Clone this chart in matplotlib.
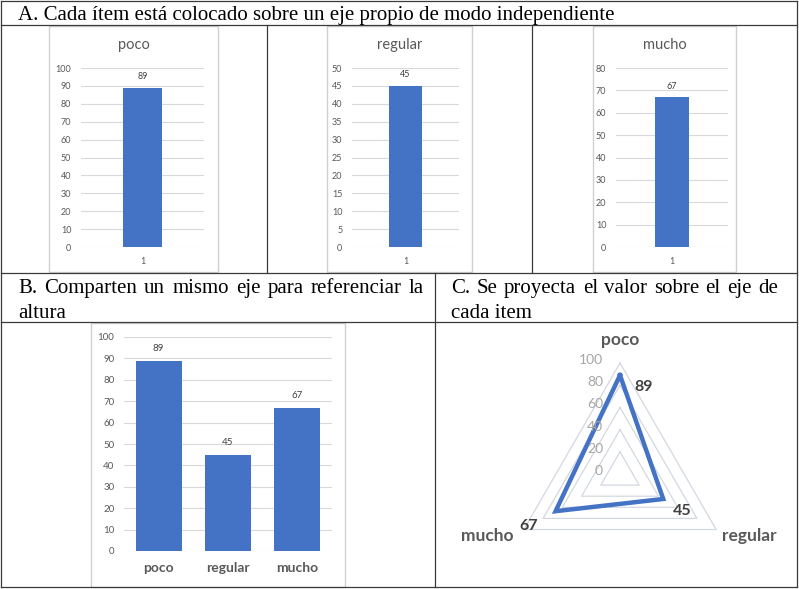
import matplotlib
matplotlib.use("Agg")
import matplotlib.pyplot as plt
import numpy as np
from matplotlib.patches import Rectangle

W, H = 799, 589

# data
categories = ["poco", "regular", "mucho"]
values = [89, 45, 67]
single_tops = [100, 50, 80]
single_steps = [10, 5, 10]
shared_ticks = list(range(0, 101, 10))
radar_ticks = [0, 20, 40, 60, 80, 100]

header_a = "A. Cada ítem está colocado sobre un eje propio de modo independiente"
header_b = ["B. Comparten un mismo eje para referenciar la", "altura"]
header_c = ["C. Se proyecta el valor sobre el eje de", "cada item"]

BLUE = "#4472C4"
GRID = "#D9D9D9"
RGRID = "#D3D8E0"
TICK = "#595959"
LABEL = "#404040"
LINE = "#3A3A3A"
SANS = "Lato"
SERIF = "Liberation Serif"
HFS = 15

fig = plt.figure(figsize=(W / 100, H / 100), dpi=100)
fig.patch.set_facecolor("white")

# background axes in pixel units (y down) for the table frame and headers
bg = fig.add_axes([0, 0, 1, 1])
bg.set_xlim(0, W)
bg.set_ylim(H, 0)
bg.axis("off")


def px_axes(x0, y0, x1, y1, **kw):
    ax = fig.add_axes([x0 / W, 1 - y1 / H, (x1 - x0) / W, (y1 - y0) / H], **kw)
    ax.set_facecolor("none")
    return ax


def pt(px):
    return px * 0.72


# table lines
for y in [1, 25, 273, 322, 587]:
    bg.plot([1, 797], [y, y], color=LINE, lw=0.9)
for x in [1, 797]:
    bg.plot([x, x], [1, 587], color=LINE, lw=0.9)
for x in [267, 532]:
    bg.plot([x, x], [25, 273], color=LINE, lw=0.9)
bg.plot([435, 435], [273, 587], color=LINE, lw=0.9)

# headers
bg.text(18, 20, header_a, fontsize=HFS, family=SERIF, va="baseline")
renderer = fig.canvas.get_renderer()


def justified(line, x0, x1, y):
    words = line.split()
    texts = [bg.text(0, y, w, fontsize=HFS, family=SERIF, va="baseline") for w in words]
    widths = [t.get_window_extent(renderer).width for t in texts]
    gap = (x1 - x0 - sum(widths)) / (len(words) - 1)
    x = x0
    for t, w in zip(texts, widths):
        t.set_x(x)
        x += w + gap


justified(header_b[0], 18, 424, 293)
bg.text(18, 318, header_b[1], fontsize=HFS, family=SERIF, va="baseline")
justified(header_c[0], 451, 778, 293)
bg.text(451, 318, header_c[1], fontsize=HFS, family=SERIF, va="baseline")

# A: one chart per item, each with its own axis
frames = [(49, 218), (327, 472), (593, 736)]
plots = [(81, 204), (352, 459), (616, 728)]
for name, val, top, step, (fx0, fx1), (px0, px1) in zip(
        categories, values, single_tops, single_steps, frames, plots):
    bg.add_patch(Rectangle((fx0, 26), fx1 - fx0, 246, fill=False, ec="#D0D0D0", lw=1.0))
    bg.text((fx0 + fx1) / 2, 45, name, ha="center", va="center",
            fontsize=10.5, color=TICK, family=SANS)
    ax = px_axes(px0, 68, px1, 247)
    ax.bar([0], [val], width=0.31, color=BLUE, zorder=3)
    ax.set_xlim(-0.5, 0.5)
    ax.set_ylim(0, top)
    ax.set_yticks(np.arange(0, top + 1, step))
    ax.set_xticks([0])
    ax.set_xticklabels(["1"])
    ax.grid(axis="y", color=GRID, lw=0.8)
    ax.set_axisbelow(True)
    for s in ax.spines.values():
        s.set_visible(False)
    ax.tick_params(length=0, labelsize=6.5, colors=TICK, pad=7)
    for lab in ax.get_xticklabels() + ax.get_yticklabels():
        lab.set_family(SANS)
    ax.annotate(str(val), (0, val), xytext=(0, pt(11)), textcoords="offset points",
                ha="center", va="center", fontsize=6.5, color=LABEL, family=SANS)

# B: shared axis
bg.add_patch(Rectangle((91, 323), 254, 264, fill=False, ec="#D0D0D0", lw=1.0))
axb = px_axes(124, 337, 332, 551)
xb = np.arange(len(categories))
axb.bar(xb, values, width=0.66, color=BLUE, zorder=3)
axb.set_xlim(-0.5, len(categories) - 0.5)
axb.set_ylim(0, 100)
axb.set_yticks(shared_ticks)
axb.set_xticks(xb)
axb.set_xticklabels(categories, fontweight="bold", fontsize=10, family=SANS)
axb.grid(axis="y", color=GRID, lw=0.8)
axb.set_axisbelow(True)
for s in axb.spines.values():
    s.set_visible(False)
axb.tick_params(axis="y", length=0, labelsize=7, colors=TICK, pad=7)
axb.tick_params(axis="x", length=0, colors=TICK, pad=8)
for lab in axb.get_yticklabels():
    lab.set_family(SANS)
for x, v in zip(xb, values):
    axb.annotate(str(v), (x, v), xytext=(0, pt(12)), textcoords="offset points",
                 ha="center", va="center", fontsize=7, color=LABEL, family=SANS)

# C: radar
axr = px_axes(509, 363, 731, 585, projection="polar")
axr.set_theta_offset(np.pi / 2)
axr.set_theta_direction(-1)
axr.set_ylim(0, 100)
axr.set_axis_off()
angles = np.arange(len(categories)) * 2 * np.pi / len(categories)
closed = np.append(angles, angles[0])
for r in radar_ticks[1:]:
    axr.plot(closed, [r] * len(closed), color=RGRID, lw=0.9, clip_on=False)
axr.plot(closed, values + values[:1], color=BLUE, lw=3.2, clip_on=False,
         solid_joinstyle="miter")
for r in radar_ticks:
    axr.annotate(str(r), (0, r), xytext=(pt(-17), pt(3)), textcoords="offset points",
                 ha="right", va="center", fontsize=10, color="#A6A6A6", family=SANS)
cat_offsets = [(0, 23, "center"), (6, -6, "left"), (-10, -6, "right")]
for a, name, (dx, dy, ha) in zip(angles, categories, cat_offsets):
    axr.annotate(name, (a, 100), xytext=(pt(dx), pt(dy)), textcoords="offset points",
                 ha=ha, va="center", fontsize=12.5, fontweight="bold", color=TICK, family=SANS)
val_offsets = [(24, -12), (19, -12), (-27, -15)]
for a, v, (dx, dy) in zip(angles, values, val_offsets):
    axr.annotate(str(v), (a, v), xytext=(pt(dx), pt(dy)), textcoords="offset points",
                 ha="center", va="center", fontsize=11.5, fontweight="bold", color=LABEL, family=SANS)

fig.savefig("out.png", dpi=100)
